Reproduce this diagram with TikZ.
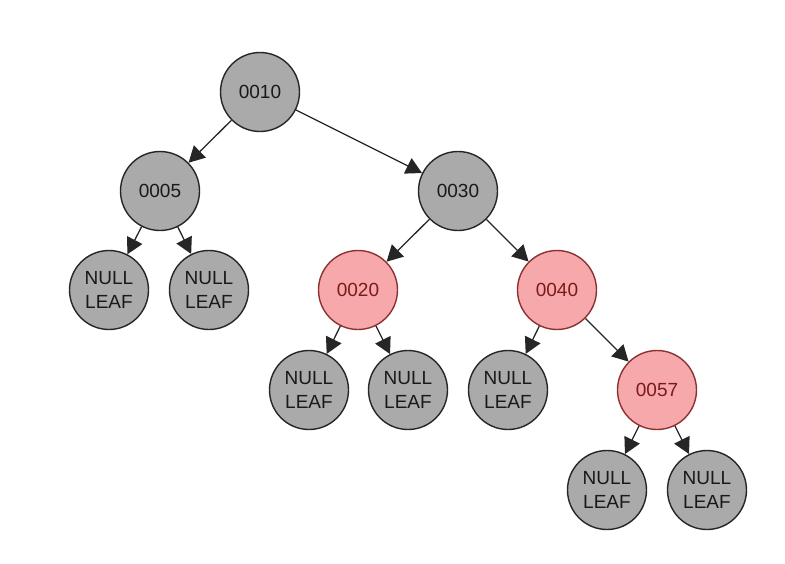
\documentclass[tikz,border=0pt]{standalone}
\usepackage{fontspec}
\setmainfont{Liberation Sans}
\usetikzlibrary{arrows.meta}
\definecolor{nodegrey}{RGB}{170,170,170}
\definecolor{nodepink}{RGB}{246,168,170}
\definecolor{pinkborder}{RGB}{140,50,50}
\definecolor{pinktext}{RGB}{125,25,25}
\tikzset{
  blk/.style={circle, draw=black!85, line width=1.4pt, fill=nodegrey, minimum size=79pt, inner sep=0pt, align=center, font=\fontsize{19}{24.5}\selectfont, text=black!90},
  red/.style={circle, draw=pinkborder, line width=1.4pt, fill=nodepink, minimum size=79pt, inner sep=0pt, align=center, font=\fontsize{19}{24.5}\selectfont, text=pinktext},
  conn/.style={line width=1.3pt, draw=black!85, -{Triangle[length=16pt,width=17pt]}}
}
\begin{document}
\begin{tikzpicture}[x=1pt,y=-1pt]
\useasboundingbox (0,0) rectangle (785,563);
\node[blk] (n10) at (260,92) {0010};
\node[blk] (n05) at (160,191) {0005};
\node[blk] (n30) at (458,191) {0030};
\node[blk] (l1) at (109,290) {NULL\\LEAF};
\node[blk] (l2) at (209,290) {NULL\\LEAF};
\node[red] (n20) at (358,290) {0020};
\node[red] (n40) at (557,290) {0040};
\node[blk] (l3) at (309,390) {NULL\\LEAF};
\node[blk] (l4) at (408,390) {NULL\\LEAF};
\node[blk] (l5) at (508,390) {NULL\\LEAF};
\node[red] (n57) at (657,390) {0057};
\node[blk] (l6) at (607,490) {NULL\\LEAF};
\node[blk] (l7) at (707,490) {NULL\\LEAF};
\draw[conn] (n10) -- (n05);
\draw[conn] (n10) -- (n30);
\draw[conn] (n05) -- (l1);
\draw[conn] (n05) -- (l2);
\draw[conn] (n30) -- (n20);
\draw[conn] (n30) -- (n40);
\draw[conn] (n20) -- (l3);
\draw[conn] (n20) -- (l4);
\draw[conn] (n40) -- (l5);
\draw[conn] (n40) -- (n57);
\draw[conn] (n57) -- (l6);
\draw[conn] (n57) -- (l7);
\end{tikzpicture}
\end{document}
